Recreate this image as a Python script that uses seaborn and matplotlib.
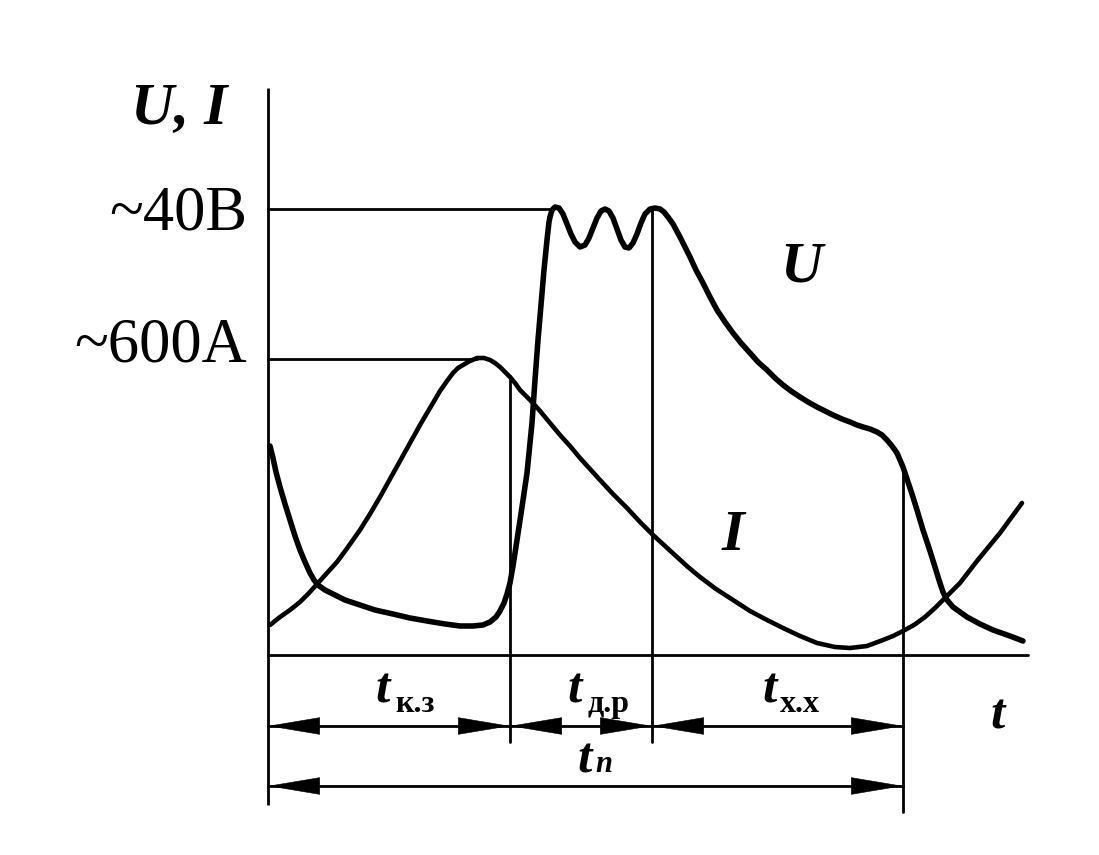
import matplotlib
matplotlib.use("Agg")
import matplotlib.pyplot as plt
from matplotlib.patches import FancyArrowPatch, ArrowStyle
import seaborn as sns

# ---- data (time in arbitrary units, values in relative units) ----
u_t = [2, 5, 8, 12, 17, 22, 27, 32, 37, 42, 46, 50, 57, 65, 77, 92, 107, 125, 142, 159, 177,
       192, 205, 215, 222, 228, 232, 236, 239, 242, 245, 249, 254, 259, 262, 264, 267, 270, 273,
       276, 279, 281, 282, 284, 287, 291, 295, 299, 303, 307, 312, 317, 321, 325, 329, 333, 337,
       341, 345, 349, 353, 357, 361, 365, 369, 373, 377, 382, 387, 392, 396, 400, 405, 412, 417,
       422, 428, 435, 442, 449, 457, 465, 473, 482, 490, 499, 507, 515, 523, 532, 540, 549, 557,
       565, 574, 582, 589, 595, 602, 609, 614, 619, 624, 629, 632, 635, 638, 641, 644, 649, 655,
       662, 667, 671, 675, 679, 685, 692, 699, 712, 725, 742, 755]
u_v = [209, 197, 183, 168, 151, 135, 119, 105, 93, 82, 75, 70, 65, 61, 55, 50, 45, 41, 37, 34,
       31, 29, 29, 30, 33, 38, 44, 52, 61, 72, 89, 115, 148, 182, 212, 232, 275, 315, 350, 385,
       415, 433, 438, 445, 448, 447, 441, 431, 421, 413, 408, 410, 417, 427, 437, 444, 446, 444,
       437, 426, 415, 408, 407, 412, 421, 432, 441, 446, 447, 446, 443, 438, 431, 418, 408, 398,
       385, 372, 358, 345, 333, 322, 312, 302, 293, 285, 277, 270, 264, 258, 253, 248, 244, 240,
       236, 233, 230, 228, 226, 223, 220, 215, 209, 202, 195, 188, 179, 170, 161, 145, 125, 104,
       88, 75, 63, 55, 48, 43, 38, 31, 25, 19, 14]

i_t = [2, 12, 22, 32, 41, 50, 59, 69, 80, 92, 102, 112, 122, 132, 142, 152, 162, 172, 179, 185,
       190, 195, 202, 209, 216, 222, 227, 232, 237, 242, 247, 252, 258, 264, 272, 282, 292, 302,
       312, 322, 332, 345, 359, 372, 385, 397, 409, 420, 432, 448, 465, 482, 499, 515, 532, 549,
       567, 582, 599, 615, 625, 635, 646, 657, 667, 677, 692, 709, 732, 754]
i_v = [30, 38, 45, 53, 62, 72, 82, 93, 108, 125, 141, 158, 176, 194, 212, 230, 247, 264, 274,
       282, 287, 290, 294, 297, 297, 295, 292, 288, 283, 278, 272, 265, 259, 253, 244, 232, 220,
       209, 197, 186, 175, 161, 147, 133, 120, 109, 98, 88, 78, 66, 55, 44, 35, 27, 19, 12, 8,
       7, 9, 15, 19, 24, 30, 38, 47, 57, 72, 94, 122, 152]

u_level, u_level_label = 446, "~40В"
i_level, i_level_label = 296, "~600А"
phase_t = [0, 242, 384, 635]          # boundaries of t_к.з, t_д.р, t_х.х
phase_sub = ["к.з", "д.р", "х.х"]
total_sub = "п"

sns.set_theme(style="white")
plt.rcParams["font.family"] = ["Liberation Serif", "DejaVu Serif"]

fig = plt.figure(figsize=(10.99, 8.55), dpi=100)
ax = fig.add_axes([0, 0, 1, 1])
ax.set_xlim(-268, 831)
ax.set_ylim(-200, 655)
ax.axis("off")

K = "black"
thin = 2.0

# axes lines
ax.plot([0, 0], [567, -150], color=K, lw=thin, solid_capstyle="butt")
ax.plot([0, 760], [0, 0], color=K, lw=thin)

# level lines
ax.plot([0, 282], [u_level, u_level], color=K, lw=thin)
ax.plot([0, i_t[i_v.index(max(i_v))]], [i_level, i_level], color=K, lw=thin)

# phase boundary verticals
row1, row2 = -71, -131
ax.plot([phase_t[1], phase_t[1]], [279, -87], color=K, lw=thin)
ax.plot([phase_t[2], phase_t[2]], [447, -87], color=K, lw=thin)
ax.plot([phase_t[3], phase_t[3]], [188, -157], color=K, lw=thin)

# curves
sns.lineplot(x=u_t, y=u_v, ax=ax, color=K, lw=4.0, sort=False, estimator=None)
sns.lineplot(x=i_t, y=i_v, ax=ax, color=K, lw=3.3, sort=False, estimator=None)

# dimension arrows
style = ArrowStyle("<|-|>", head_length=36, head_width=6)
def dim(x0, x1, y):
    ax.plot([x0, x1], [y, y], color=K, lw=thin)
    a = FancyArrowPatch((x0, y), (x1, y), arrowstyle=style, mutation_scale=1,
                        shrinkA=0, shrinkB=0, lw=0.4, color=K)
    ax.add_patch(a)

for a, b in zip(phase_t[:-1], phase_t[1:]):
    dim(a, b, row1)
dim(phase_t[0], phase_t[-1], row2)

# texts
bi = dict(fontweight="bold", fontstyle="italic", color=K)
ax.text(-41, 532, "U, I", ha="right", va="baseline", fontsize=43, **bi)
ax.text(-21, 425, u_level_label, ha="right", va="baseline", fontsize=45, color=K)
ax.text(-21, 293, i_level_label, ha="right", va="baseline", fontsize=45, color=K)
ax.text(512, 373, "U", ha="left", va="baseline", fontsize=42, **bi)
ax.text(454, 105, "I", ha="left", va="baseline", fontsize=42, **bi)
ax.text(722, -73, "t", ha="left", va="baseline", fontsize=37, **bi)

sub_pos = [(107, 127), (299, 319), (494, 512)]
for (tx, sx), s in zip(sub_pos, phase_sub):
    ax.text(tx, -47, "t", ha="left", va="baseline", fontsize=37, **bi)
    ax.text(sx, -57, s, ha="left", va="baseline", fontsize=23, fontweight="bold", color=K)
ax.text(309, -117, "t", ha="left", va="baseline", fontsize=37, **bi)
ax.text(327, -117, total_sub, ha="left", va="baseline", fontsize=22, **bi)

fig.savefig("out.png", dpi=100, facecolor="white")
